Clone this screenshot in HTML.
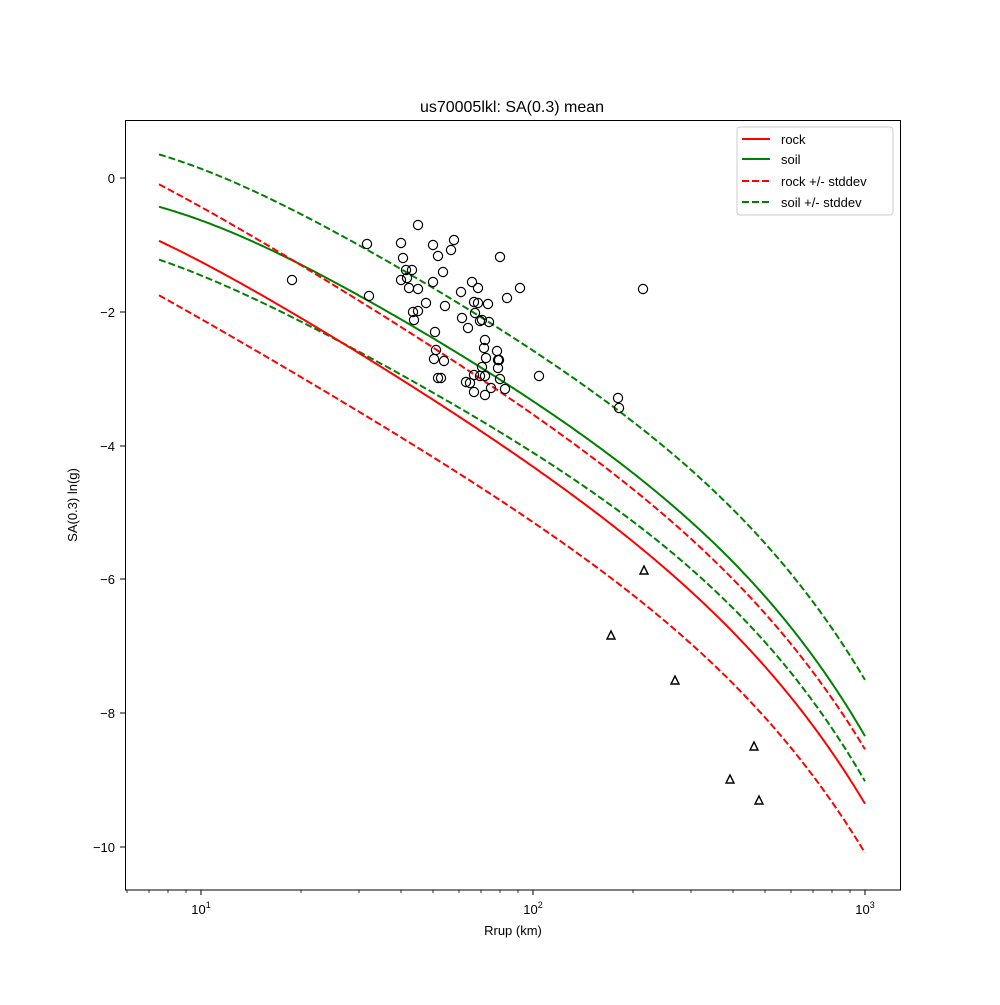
<!DOCTYPE html><html><head><style>body{margin:0;background:#fff}svg{font-family:"Liberation Sans","DejaVu Sans",sans-serif}</style></head><body>
<svg width="1000" height="1000" xmlns="http://www.w3.org/2000/svg">
<rect width="1000" height="1000" fill="#fff"/>
<text x="512" y="112" font-size="16" text-anchor="middle">us70005lkl: SA(0.3) mean</text>
<g fill="none" stroke-width="2" stroke-linejoin="round">
<path stroke="green" stroke-dasharray="7,3" data-p="159,155 201,168 380,257 630,420 735,511 865,680" d="M159,155 L865,680"/>
<path stroke="green" data-p="159,207 201,220 380,308 600,449 668,498 735,562 803,650 865,733" d="M159,207 L865,733"/>
<path stroke="red" stroke-dasharray="7,3" data-p="159,187 201,202 380,317 600,464 735,579 865,750" d="M159,187 L865,750"/>
<path stroke="green" stroke-dasharray="7,3" data-p="159,260 201,275 380,362 600,501 735,607 865,782" d="M159,260 L865,782"/>
<path stroke="red" data-p="159,243 201,258 380,368 600,518 735,628 803,717 865,803" d="M159,243 L865,803"/>
<path stroke="red" stroke-dasharray="7,3" data-p="159,298 201,314 380,427 600,572 735,682 865,854" d="M159,298 L865,854"/>
</g>
<g fill="none" stroke="#000" stroke-width="1.2">
<circle cx="292" cy="280" r="4.6"/><circle cx="367" cy="244" r="4.6"/><circle cx="369" cy="296" r="4.6"/><circle cx="401" cy="243" r="4.6"/><circle cx="403" cy="258" r="4.6"/><circle cx="401" cy="280" r="4.6"/><circle cx="406" cy="270" r="4.6"/><circle cx="407" cy="278" r="4.6"/><circle cx="409" cy="288" r="4.6"/><circle cx="412" cy="270" r="4.6"/><circle cx="413" cy="312" r="4.6"/><circle cx="414" cy="320" r="4.6"/><circle cx="418" cy="225" r="4.6"/><circle cx="418" cy="289" r="4.6"/><circle cx="418" cy="311" r="4.6"/><circle cx="426" cy="303" r="4.6"/><circle cx="433" cy="245" r="4.6"/><circle cx="433" cy="282" r="4.6"/><circle cx="438" cy="256" r="4.6"/><circle cx="443" cy="272" r="4.6"/><circle cx="445" cy="306" r="4.6"/><circle cx="435" cy="332" r="4.6"/><circle cx="436" cy="350" r="4.6"/><circle cx="434" cy="359" r="4.6"/><circle cx="441" cy="378" r="4.6"/><circle cx="438" cy="378" r="4.6"/><circle cx="444" cy="361" r="4.6"/><circle cx="451" cy="250" r="4.6"/><circle cx="454" cy="240" r="4.6"/><circle cx="461" cy="292" r="4.6"/><circle cx="462" cy="318" r="4.6"/><circle cx="468" cy="328" r="4.6"/><circle cx="472" cy="282" r="4.6"/><circle cx="474" cy="302" r="4.6"/><circle cx="475" cy="313" r="4.6"/><circle cx="478" cy="288" r="4.6"/><circle cx="480" cy="321" r="4.6"/><circle cx="478" cy="303" r="4.6"/><circle cx="482" cy="320" r="4.6"/><circle cx="485" cy="340" r="4.6"/><circle cx="488" cy="304" r="4.6"/><circle cx="489" cy="322" r="4.6"/><circle cx="486" cy="358" r="4.6"/><circle cx="484" cy="348" r="4.6"/><circle cx="482" cy="367" r="4.6"/><circle cx="485" cy="376" r="4.6"/><circle cx="480" cy="376" r="4.6"/><circle cx="474" cy="375" r="4.6"/><circle cx="466" cy="382" r="4.6"/><circle cx="470" cy="383" r="4.6"/><circle cx="474" cy="392" r="4.6"/><circle cx="485" cy="395" r="4.6"/><circle cx="491" cy="388" r="4.6"/><circle cx="497" cy="351" r="4.6"/><circle cx="498" cy="360" r="4.6"/><circle cx="499" cy="360" r="4.6"/><circle cx="498" cy="368" r="4.6"/><circle cx="500" cy="379" r="4.6"/><circle cx="505" cy="389" r="4.6"/><circle cx="507" cy="298" r="4.6"/><circle cx="520" cy="288" r="4.6"/><circle cx="500" cy="257" r="4.6"/><circle cx="539" cy="376" r="4.6"/><circle cx="618" cy="398" r="4.6"/><circle cx="619" cy="408" r="4.6"/><circle cx="643" cy="289" r="4.6"/>
<g stroke-width="1.4"><path d="M644,566 l4,8 h-8z"/><path d="M611,631 l4,8 h-8z"/><path d="M675,676 l4,8 h-8z"/><path d="M754,742 l4,8 h-8z"/><path d="M730,775 l4,8 h-8z"/><path d="M759,796 l4,8 h-8z"/></g>
</g>
<rect x="125.5" y="120.5" width="775" height="769.5" fill="none" stroke="#000" stroke-width="1"/>
<g stroke="#000" stroke-width="1">
<line x1="201" y1="890" x2="201" y2="895"/><line x1="533" y1="890" x2="533" y2="895"/><line x1="865" y1="890" x2="865" y2="895"/>
<g stroke-width="0.8">
<line x1="127" y1="890" x2="127" y2="893"/><line x1="149" y1="890" x2="149" y2="893"/><line x1="168" y1="890" x2="168" y2="893"/><line x1="186" y1="890" x2="186" y2="893"/>
<line x1="301" y1="890" x2="301" y2="893"/><line x1="359" y1="890" x2="359" y2="893"/><line x1="401" y1="890" x2="401" y2="893"/><line x1="433" y1="890" x2="433" y2="893"/><line x1="459" y1="890" x2="459" y2="893"/><line x1="481" y1="890" x2="481" y2="893"/><line x1="500" y1="890" x2="500" y2="893"/><line x1="518" y1="890" x2="518" y2="893"/>
<line x1="633" y1="890" x2="633" y2="893"/><line x1="691" y1="890" x2="691" y2="893"/><line x1="733" y1="890" x2="733" y2="893"/><line x1="765" y1="890" x2="765" y2="893"/><line x1="791" y1="890" x2="791" y2="893"/><line x1="813" y1="890" x2="813" y2="893"/><line x1="832" y1="890" x2="832" y2="893"/><line x1="850" y1="890" x2="850" y2="893"/>
</g>
<line x1="120" y1="178" x2="125" y2="178"/><line x1="120" y1="312" x2="125" y2="312"/><line x1="120" y1="446" x2="125" y2="446"/><line x1="120" y1="579" x2="125" y2="579"/><line x1="120" y1="713" x2="125" y2="713"/><line x1="120" y1="847" x2="125" y2="847"/>
</g>
<g font-size="13">
<text x="201" y="914" text-anchor="middle">10<tspan font-size="9" dy="-6">1</tspan></text>
<text x="533" y="914" text-anchor="middle">10<tspan font-size="9" dy="-6">2</tspan></text>
<text x="865" y="914" text-anchor="middle">10<tspan font-size="9" dy="-6">3</tspan></text>
<g text-anchor="end"><text x="115" y="183">0</text><text x="115" y="317">−2</text><text x="115" y="451">−4</text><text x="115" y="584">−6</text><text x="115" y="718">−8</text><text x="115" y="852">−10</text></g>
<text x="513" y="935" text-anchor="middle">Rrup (km)</text>
<text transform="translate(77,505) rotate(-90)" text-anchor="middle">SA(0.3) ln(g)</text>
</g>
<rect x="737" y="127" width="156" height="88" rx="3" fill="#fff" stroke="#ccc"/>
<g stroke-width="2"><line x1="742" y1="139" x2="770" y2="139" stroke="red"/><line x1="742" y1="159" x2="770" y2="159" stroke="green"/><line x1="742" y1="181" x2="770" y2="181" stroke="red" stroke-dasharray="7,3"/><line x1="742" y1="202" x2="770" y2="202" stroke="green" stroke-dasharray="7,3"/></g>
<g font-size="13"><text x="781" y="144">rock</text><text x="781" y="164">soil</text><text x="781" y="186">rock +/- stddev</text><text x="781" y="207">soil +/- stddev</text></g>
</svg>
<script>
function R(x){return Math.pow(10,(x-201)/332+1);}
function solve3(M,v){
 var a=M.map(function(r,i){return r.concat([v[i]]);});
 for(var i=0;i<3;i++){var p=i;for(var k=i+1;k<3;k++)if(Math.abs(a[k][i])>Math.abs(a[p][i]))p=k;
  var t=a[i];a[i]=a[p];a[p]=t;
  for(var k=0;k<3;k++)if(k!=i){var f=a[k][i]/a[i][i];for(var j=i;j<4;j++)a[k][j]-=f*a[i][j];}}
 return [a[0][3]/a[0][0],a[1][3]/a[1][1],a[2][3]/a[2][2]];
}
document.querySelectorAll('path[data-p]').forEach(function(el){
 var p=el.getAttribute('data-p').split(' ').map(function(s){return s.split(',').map(Number);});
 var best=null;
 for(var h=0.5;h<=30;h+=0.5){
  var M=[[0,0,0],[0,0,0],[0,0,0]],v=[0,0,0];
  p.forEach(function(q){var r=R(q[0]);var f=[1,Math.log10(Math.sqrt(r*r+h*h)),r];
   for(var i=0;i<3;i++){v[i]+=f[i]*q[1];for(var j=0;j<3;j++)M[i][j]+=f[i]*f[j];}});
  var c=solve3(M,v),e=0;
  p.forEach(function(q){var r=R(q[0]);var y=c[0]+c[1]*Math.log10(Math.sqrt(r*r+h*h))+c[2]*r;e+=(y-q[1])*(y-q[1]);});
  if(!best||e<best.e)best={e:e,c:c,h:h};
 }
 var d='',c=best.c,h=best.h;
 for(var x=159;x<=865;x+=2){var r=R(x);var y=c[0]+c[1]*Math.log10(Math.sqrt(r*r+h*h))+c[2]*r;d+=(x==159?'M':' L')+x+','+y.toFixed(1);}
 el.setAttribute('d',d);el.removeAttribute('data-p');
});
</script>
</body></html>
